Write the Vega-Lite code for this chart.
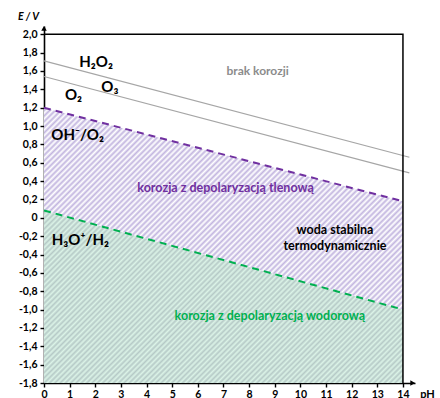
{
  "$schema": "https://vega.github.io/schema/vega-lite/v6.json",
  "width": 371,
  "height": 357,
  "autosize": {"type": "none"},
  "padding": {"left": 44, "top": 26, "right": 25, "bottom": 15},
  "background": "white",
  "config": {"view": {"stroke": null}, "font": "Lato"},
  "datasets": {
    "regions": [
      {"region": "tlen", "pH": 0, "top": 1.2, "bottom": 0.08},
      {"region": "tlen", "pH": 14, "top": 0.18, "bottom": -1.0},
      {"region": "wodor", "pH": 0, "top": 0.08, "bottom": -1.8},
      {"region": "wodor", "pH": 14, "top": -1.0, "bottom": -1.8}
    ],
    "lines": [
      {"series": "H2O2", "pH": 0, "E": 1.71},
      {"series": "H2O2", "pH": 14.25, "E": 0.66},
      {"series": "O3", "pH": 0, "E": 1.54},
      {"series": "O3", "pH": 14.25, "E": 0.49},
      {"series": "O2", "pH": 0, "E": 1.2},
      {"series": "O2", "pH": 14, "E": 0.18},
      {"series": "H2", "pH": 0, "E": 0.08},
      {"series": "H2", "pH": 14, "E": -1.0}
    ],
    "frame": [
      {"pH": 0, "E": 2.0},
      {"pH": 14, "E": 2.0},
      {"pH": 14, "E": -1.8}
    ],
    "arrows": [
      {"axis": "y", "pH": 0, "E": 2.065},
      {"axis": "x", "pH": 14.38, "E": -1.8}
    ],
    "labels": [
      {"group": "species", "text": "H₂O₂", "pH": 2.03, "E": 1.70},
      {"group": "species", "text": "O₃", "pH": 2.57, "E": 1.43},
      {"group": "species", "text": "O₂", "pH": 1.15, "E": 1.34},
      {"group": "species", "text": "OH⁻/O₂", "pH": 1.31, "E": 0.90},
      {"group": "species", "text": "H₃O⁺/H₂", "pH": 1.42, "E": -0.24},
      {"group": "brak", "text": "brak korozji", "pH": 8.33, "E": 1.60},
      {"group": "tlen", "text": "korozja z depolaryzacją tlenową", "pH": 7.08, "E": 0.33},
      {"group": "woda", "text": "woda stabilna", "pH": 11.35, "E": -0.13},
      {"group": "woda", "text": "termodynamicznie", "pH": 11.35, "E": -0.31},
      {"group": "wodor", "text": "korozja z depolaryzacją wodorową", "pH": 8.81, "E": -1.07}
    ]
  },
  "layer": [
    {
      "data": {"name": "regions"},
      "transform": [{"filter": "datum.region == 'tlen'"}],
      "mark": {"type": "area", "opacity": 1, "fill": {"gradient": "linear", "x1": 0, "y1": 0, "x2": 1.187, "y2": 0.668, "stops": [
        {"offset":0,"color":"#ffffff"},{"offset":0.005,"color":"#c2b5df"},{"offset":0.01,"color":"#ffffff"},{"offset":0.015,"color":"#c2b5df"},{"offset":0.02,"color":"#ffffff"},{"offset":0.025,"color":"#c2b5df"},{"offset":0.03,"color":"#ffffff"},{"offset":0.035,"color":"#c2b5df"},{"offset":0.04,"color":"#ffffff"},{"offset":0.045,"color":"#c2b5df"},
        {"offset":0.05,"color":"#ffffff"},{"offset":0.055,"color":"#c2b5df"},{"offset":0.06,"color":"#ffffff"},{"offset":0.065,"color":"#c2b5df"},{"offset":0.07,"color":"#ffffff"},{"offset":0.075,"color":"#c2b5df"},{"offset":0.08,"color":"#ffffff"},{"offset":0.085,"color":"#c2b5df"},{"offset":0.09,"color":"#ffffff"},{"offset":0.095,"color":"#c2b5df"},
        {"offset":0.1,"color":"#ffffff"},{"offset":0.105,"color":"#c2b5df"},{"offset":0.11,"color":"#ffffff"},{"offset":0.115,"color":"#c2b5df"},{"offset":0.12,"color":"#ffffff"},{"offset":0.125,"color":"#c2b5df"},{"offset":0.13,"color":"#ffffff"},{"offset":0.135,"color":"#c2b5df"},{"offset":0.14,"color":"#ffffff"},{"offset":0.145,"color":"#c2b5df"},
        {"offset":0.15,"color":"#ffffff"},{"offset":0.155,"color":"#c2b5df"},{"offset":0.16,"color":"#ffffff"},{"offset":0.165,"color":"#c2b5df"},{"offset":0.17,"color":"#ffffff"},{"offset":0.175,"color":"#c2b5df"},{"offset":0.18,"color":"#ffffff"},{"offset":0.185,"color":"#c2b5df"},{"offset":0.19,"color":"#ffffff"},{"offset":0.195,"color":"#c2b5df"},
        {"offset":0.2,"color":"#ffffff"},{"offset":0.205,"color":"#c2b5df"},{"offset":0.21,"color":"#ffffff"},{"offset":0.215,"color":"#c2b5df"},{"offset":0.22,"color":"#ffffff"},{"offset":0.225,"color":"#c2b5df"},{"offset":0.23,"color":"#ffffff"},{"offset":0.235,"color":"#c2b5df"},{"offset":0.24,"color":"#ffffff"},{"offset":0.245,"color":"#c2b5df"},
        {"offset":0.25,"color":"#ffffff"},{"offset":0.255,"color":"#c2b5df"},{"offset":0.26,"color":"#ffffff"},{"offset":0.265,"color":"#c2b5df"},{"offset":0.27,"color":"#ffffff"},{"offset":0.275,"color":"#c2b5df"},{"offset":0.28,"color":"#ffffff"},{"offset":0.285,"color":"#c2b5df"},{"offset":0.29,"color":"#ffffff"},{"offset":0.295,"color":"#c2b5df"},
        {"offset":0.3,"color":"#ffffff"},{"offset":0.305,"color":"#c2b5df"},{"offset":0.31,"color":"#ffffff"},{"offset":0.315,"color":"#c2b5df"},{"offset":0.32,"color":"#ffffff"},{"offset":0.325,"color":"#c2b5df"},{"offset":0.33,"color":"#ffffff"},{"offset":0.335,"color":"#c2b5df"},{"offset":0.34,"color":"#ffffff"},{"offset":0.345,"color":"#c2b5df"},
        {"offset":0.35,"color":"#ffffff"},{"offset":0.355,"color":"#c2b5df"},{"offset":0.36,"color":"#ffffff"},{"offset":0.365,"color":"#c2b5df"},{"offset":0.37,"color":"#ffffff"},{"offset":0.375,"color":"#c2b5df"},{"offset":0.38,"color":"#ffffff"},{"offset":0.385,"color":"#c2b5df"},{"offset":0.39,"color":"#ffffff"},{"offset":0.395,"color":"#c2b5df"},
        {"offset":0.4,"color":"#ffffff"},{"offset":0.405,"color":"#c2b5df"},{"offset":0.41,"color":"#ffffff"},{"offset":0.415,"color":"#c2b5df"},{"offset":0.42,"color":"#ffffff"},{"offset":0.425,"color":"#c2b5df"},{"offset":0.43,"color":"#ffffff"},{"offset":0.435,"color":"#c2b5df"},{"offset":0.44,"color":"#ffffff"},{"offset":0.445,"color":"#c2b5df"},
        {"offset":0.45,"color":"#ffffff"},{"offset":0.455,"color":"#c2b5df"},{"offset":0.46,"color":"#ffffff"},{"offset":0.465,"color":"#c2b5df"},{"offset":0.47,"color":"#ffffff"},{"offset":0.475,"color":"#c2b5df"},{"offset":0.48,"color":"#ffffff"},{"offset":0.485,"color":"#c2b5df"},{"offset":0.49,"color":"#ffffff"},{"offset":0.495,"color":"#c2b5df"},
        {"offset":0.5,"color":"#ffffff"},{"offset":0.505,"color":"#c2b5df"},{"offset":0.51,"color":"#ffffff"},{"offset":0.515,"color":"#c2b5df"},{"offset":0.52,"color":"#ffffff"},{"offset":0.525,"color":"#c2b5df"},{"offset":0.53,"color":"#ffffff"},{"offset":0.535,"color":"#c2b5df"},{"offset":0.54,"color":"#ffffff"},{"offset":0.545,"color":"#c2b5df"},
        {"offset":0.55,"color":"#ffffff"},{"offset":0.555,"color":"#c2b5df"},{"offset":0.56,"color":"#ffffff"},{"offset":0.565,"color":"#c2b5df"},{"offset":0.57,"color":"#ffffff"},{"offset":0.575,"color":"#c2b5df"},{"offset":0.58,"color":"#ffffff"},{"offset":0.585,"color":"#c2b5df"},{"offset":0.59,"color":"#ffffff"},{"offset":0.595,"color":"#c2b5df"},
        {"offset":0.6,"color":"#ffffff"},{"offset":0.605,"color":"#c2b5df"},{"offset":0.61,"color":"#ffffff"},{"offset":0.615,"color":"#c2b5df"},{"offset":0.62,"color":"#ffffff"},{"offset":0.625,"color":"#c2b5df"},{"offset":0.63,"color":"#ffffff"},{"offset":0.635,"color":"#c2b5df"},{"offset":0.64,"color":"#ffffff"},{"offset":0.645,"color":"#c2b5df"},
        {"offset":0.65,"color":"#ffffff"},{"offset":0.655,"color":"#c2b5df"},{"offset":0.66,"color":"#ffffff"},{"offset":0.665,"color":"#c2b5df"},{"offset":0.67,"color":"#ffffff"},{"offset":0.675,"color":"#c2b5df"},{"offset":0.68,"color":"#ffffff"},{"offset":0.685,"color":"#c2b5df"},{"offset":0.69,"color":"#ffffff"},{"offset":0.695,"color":"#c2b5df"},
        {"offset":0.7,"color":"#ffffff"},{"offset":0.705,"color":"#c2b5df"},{"offset":0.71,"color":"#ffffff"},{"offset":0.715,"color":"#c2b5df"},{"offset":0.72,"color":"#ffffff"},{"offset":0.725,"color":"#c2b5df"},{"offset":0.73,"color":"#ffffff"},{"offset":0.735,"color":"#c2b5df"},{"offset":0.74,"color":"#ffffff"},{"offset":0.745,"color":"#c2b5df"},
        {"offset":0.75,"color":"#ffffff"},{"offset":0.755,"color":"#c2b5df"},{"offset":0.76,"color":"#ffffff"},{"offset":0.765,"color":"#c2b5df"},{"offset":0.77,"color":"#ffffff"},{"offset":0.775,"color":"#c2b5df"},{"offset":0.78,"color":"#ffffff"},{"offset":0.785,"color":"#c2b5df"},{"offset":0.79,"color":"#ffffff"},{"offset":0.795,"color":"#c2b5df"},
        {"offset":0.8,"color":"#ffffff"},{"offset":0.805,"color":"#c2b5df"},{"offset":0.81,"color":"#ffffff"},{"offset":0.815,"color":"#c2b5df"},{"offset":0.82,"color":"#ffffff"},{"offset":0.825,"color":"#c2b5df"},{"offset":0.83,"color":"#ffffff"},{"offset":0.835,"color":"#c2b5df"},{"offset":0.84,"color":"#ffffff"},{"offset":0.845,"color":"#c2b5df"},
        {"offset":0.85,"color":"#ffffff"},{"offset":0.855,"color":"#c2b5df"},{"offset":0.86,"color":"#ffffff"},{"offset":0.865,"color":"#c2b5df"},{"offset":0.87,"color":"#ffffff"},{"offset":0.875,"color":"#c2b5df"},{"offset":0.88,"color":"#ffffff"},{"offset":0.885,"color":"#c2b5df"},{"offset":0.89,"color":"#ffffff"},{"offset":0.895,"color":"#c2b5df"},
        {"offset":0.9,"color":"#ffffff"},{"offset":0.905,"color":"#c2b5df"},{"offset":0.91,"color":"#ffffff"},{"offset":0.915,"color":"#c2b5df"},{"offset":0.92,"color":"#ffffff"},{"offset":0.925,"color":"#c2b5df"},{"offset":0.93,"color":"#ffffff"},{"offset":0.935,"color":"#c2b5df"},{"offset":0.94,"color":"#ffffff"},{"offset":0.945,"color":"#c2b5df"},
        {"offset":0.95,"color":"#ffffff"},{"offset":0.955,"color":"#c2b5df"},{"offset":0.96,"color":"#ffffff"},{"offset":0.965,"color":"#c2b5df"},{"offset":0.97,"color":"#ffffff"},{"offset":0.975,"color":"#c2b5df"},{"offset":0.98,"color":"#ffffff"},{"offset":0.985,"color":"#c2b5df"},{"offset":0.99,"color":"#ffffff"},{"offset":0.995,"color":"#c2b5df"},
        {"offset":1,"color":"#ffffff"}
      ]}},
      "encoding": {
        "x": {
          "field": "pH", "type": "quantitative",
          "scale": {"domain": [0, 14.47], "nice": false, "zero": false},
          "axis": {
            "values": [0, 1, 2, 3, 4, 5, 6, 7, 8, 9, 10, 11, 12, 13, 14],
            "tickCount": 40, "format": "d",
            "grid": false, "domainColor": "#000", "domainWidth": 1.6,
            "tickColor": "#000", "tickWidth": 1.4, "tickSize": 4,
            "labelFont": "Lato", "labelFontWeight": "bold", "labelFontSize": 10.5, "labelColor": "#000",
            "labelPadding": 2, "labelFlush": false, "labelOverlap": false, "labelBound": false,
            "title": "pH", "titleX": 383, "titleY": 11, "titleBaseline": "middle", "titleAlign": "center",
            "titleFont": "Lato", "titleFontWeight": "bold", "titleFontSize": 11, "titleColor": "#000"
          }
        },
        "y": {
          "field": "top", "type": "quantitative",
          "scale": {"domain": [-1.8, 2.09], "nice": false, "zero": false},
          "axis": {
            "values": [-1.8, -1.6, -1.4, -1.2, -1.0, -0.8, -0.6, -0.4, -0.2, 0, 0.2, 0.4, 0.6, 0.8, 1.0, 1.2, 1.4, 1.6, 1.8, 2.0],
            "tickCount": 40,
            "labelExpr": "datum.value == 0 ? '0' : replace(replace(format(datum.value, '.1f'), '.', ','), '−', '-')",
            "grid": false, "domainColor": "#000", "domainWidth": 1.6,
            "tickColor": "#000", "tickWidth": 1.4, "tickSize": 4,
            "labelFont": "Lato", "labelFontWeight": "bold", "labelFontSize": 10.5, "labelColor": "#000",
            "labelPadding": 3, "labelFlush": false, "labelOverlap": false, "labelBound": false,
            "title": "E / V", "titleAngle": 0, "titleX": -16, "titleY": -10, "titleBaseline": "middle", "titleAlign": "center",
            "titleFont": "Lato", "titleFontWeight": "bold", "titleFontStyle": "italic", "titleFontSize": 10.5, "titleColor": "#000"
          }
        },
        "y2": {"field": "bottom"}
      }
    },
    {
      "data": {"name": "regions"},
      "transform": [{"filter": "datum.region == 'wodor'"}],
      "mark": {"type": "area", "opacity": 1, "fill": {"gradient": "linear", "x1": 0, "y1": 0, "x2": 1.203, "y2": 0.578, "stops": [
        {"offset":0,"color":"#dbf3e7"},{"offset":0.005,"color":"#b6cac7"},{"offset":0.01,"color":"#dbf3e7"},{"offset":0.015,"color":"#b6cac7"},{"offset":0.02,"color":"#dbf3e7"},{"offset":0.025,"color":"#b6cac7"},{"offset":0.03,"color":"#dbf3e7"},{"offset":0.035,"color":"#b6cac7"},{"offset":0.04,"color":"#dbf3e7"},{"offset":0.045,"color":"#b6cac7"},
        {"offset":0.05,"color":"#dbf3e7"},{"offset":0.055,"color":"#b6cac7"},{"offset":0.06,"color":"#dbf3e7"},{"offset":0.065,"color":"#b6cac7"},{"offset":0.07,"color":"#dbf3e7"},{"offset":0.075,"color":"#b6cac7"},{"offset":0.08,"color":"#dbf3e7"},{"offset":0.085,"color":"#b6cac7"},{"offset":0.09,"color":"#dbf3e7"},{"offset":0.095,"color":"#b6cac7"},
        {"offset":0.1,"color":"#dbf3e7"},{"offset":0.105,"color":"#b6cac7"},{"offset":0.11,"color":"#dbf3e7"},{"offset":0.115,"color":"#b6cac7"},{"offset":0.12,"color":"#dbf3e7"},{"offset":0.125,"color":"#b6cac7"},{"offset":0.13,"color":"#dbf3e7"},{"offset":0.135,"color":"#b6cac7"},{"offset":0.14,"color":"#dbf3e7"},{"offset":0.145,"color":"#b6cac7"},
        {"offset":0.15,"color":"#dbf3e7"},{"offset":0.155,"color":"#b6cac7"},{"offset":0.16,"color":"#dbf3e7"},{"offset":0.165,"color":"#b6cac7"},{"offset":0.17,"color":"#dbf3e7"},{"offset":0.175,"color":"#b6cac7"},{"offset":0.18,"color":"#dbf3e7"},{"offset":0.185,"color":"#b6cac7"},{"offset":0.19,"color":"#dbf3e7"},{"offset":0.195,"color":"#b6cac7"},
        {"offset":0.2,"color":"#dbf3e7"},{"offset":0.205,"color":"#b6cac7"},{"offset":0.21,"color":"#dbf3e7"},{"offset":0.215,"color":"#b6cac7"},{"offset":0.22,"color":"#dbf3e7"},{"offset":0.225,"color":"#b6cac7"},{"offset":0.23,"color":"#dbf3e7"},{"offset":0.235,"color":"#b6cac7"},{"offset":0.24,"color":"#dbf3e7"},{"offset":0.245,"color":"#b6cac7"},
        {"offset":0.25,"color":"#dbf3e7"},{"offset":0.255,"color":"#b6cac7"},{"offset":0.26,"color":"#dbf3e7"},{"offset":0.265,"color":"#b6cac7"},{"offset":0.27,"color":"#dbf3e7"},{"offset":0.275,"color":"#b6cac7"},{"offset":0.28,"color":"#dbf3e7"},{"offset":0.285,"color":"#b6cac7"},{"offset":0.29,"color":"#dbf3e7"},{"offset":0.295,"color":"#b6cac7"},
        {"offset":0.3,"color":"#dbf3e7"},{"offset":0.305,"color":"#b6cac7"},{"offset":0.31,"color":"#dbf3e7"},{"offset":0.315,"color":"#b6cac7"},{"offset":0.32,"color":"#dbf3e7"},{"offset":0.325,"color":"#b6cac7"},{"offset":0.33,"color":"#dbf3e7"},{"offset":0.335,"color":"#b6cac7"},{"offset":0.34,"color":"#dbf3e7"},{"offset":0.345,"color":"#b6cac7"},
        {"offset":0.35,"color":"#dbf3e7"},{"offset":0.355,"color":"#b6cac7"},{"offset":0.36,"color":"#dbf3e7"},{"offset":0.365,"color":"#b6cac7"},{"offset":0.37,"color":"#dbf3e7"},{"offset":0.375,"color":"#b6cac7"},{"offset":0.38,"color":"#dbf3e7"},{"offset":0.385,"color":"#b6cac7"},{"offset":0.39,"color":"#dbf3e7"},{"offset":0.395,"color":"#b6cac7"},
        {"offset":0.4,"color":"#dbf3e7"},{"offset":0.405,"color":"#b6cac7"},{"offset":0.41,"color":"#dbf3e7"},{"offset":0.415,"color":"#b6cac7"},{"offset":0.42,"color":"#dbf3e7"},{"offset":0.425,"color":"#b6cac7"},{"offset":0.43,"color":"#dbf3e7"},{"offset":0.435,"color":"#b6cac7"},{"offset":0.44,"color":"#dbf3e7"},{"offset":0.445,"color":"#b6cac7"},
        {"offset":0.45,"color":"#dbf3e7"},{"offset":0.455,"color":"#b6cac7"},{"offset":0.46,"color":"#dbf3e7"},{"offset":0.465,"color":"#b6cac7"},{"offset":0.47,"color":"#dbf3e7"},{"offset":0.475,"color":"#b6cac7"},{"offset":0.48,"color":"#dbf3e7"},{"offset":0.485,"color":"#b6cac7"},{"offset":0.49,"color":"#dbf3e7"},{"offset":0.495,"color":"#b6cac7"},
        {"offset":0.5,"color":"#dbf3e7"},{"offset":0.505,"color":"#b6cac7"},{"offset":0.51,"color":"#dbf3e7"},{"offset":0.515,"color":"#b6cac7"},{"offset":0.52,"color":"#dbf3e7"},{"offset":0.525,"color":"#b6cac7"},{"offset":0.53,"color":"#dbf3e7"},{"offset":0.535,"color":"#b6cac7"},{"offset":0.54,"color":"#dbf3e7"},{"offset":0.545,"color":"#b6cac7"},
        {"offset":0.55,"color":"#dbf3e7"},{"offset":0.555,"color":"#b6cac7"},{"offset":0.56,"color":"#dbf3e7"},{"offset":0.565,"color":"#b6cac7"},{"offset":0.57,"color":"#dbf3e7"},{"offset":0.575,"color":"#b6cac7"},{"offset":0.58,"color":"#dbf3e7"},{"offset":0.585,"color":"#b6cac7"},{"offset":0.59,"color":"#dbf3e7"},{"offset":0.595,"color":"#b6cac7"},
        {"offset":0.6,"color":"#dbf3e7"},{"offset":0.605,"color":"#b6cac7"},{"offset":0.61,"color":"#dbf3e7"},{"offset":0.615,"color":"#b6cac7"},{"offset":0.62,"color":"#dbf3e7"},{"offset":0.625,"color":"#b6cac7"},{"offset":0.63,"color":"#dbf3e7"},{"offset":0.635,"color":"#b6cac7"},{"offset":0.64,"color":"#dbf3e7"},{"offset":0.645,"color":"#b6cac7"},
        {"offset":0.65,"color":"#dbf3e7"},{"offset":0.655,"color":"#b6cac7"},{"offset":0.66,"color":"#dbf3e7"},{"offset":0.665,"color":"#b6cac7"},{"offset":0.67,"color":"#dbf3e7"},{"offset":0.675,"color":"#b6cac7"},{"offset":0.68,"color":"#dbf3e7"},{"offset":0.685,"color":"#b6cac7"},{"offset":0.69,"color":"#dbf3e7"},{"offset":0.695,"color":"#b6cac7"},
        {"offset":0.7,"color":"#dbf3e7"},{"offset":0.705,"color":"#b6cac7"},{"offset":0.71,"color":"#dbf3e7"},{"offset":0.715,"color":"#b6cac7"},{"offset":0.72,"color":"#dbf3e7"},{"offset":0.725,"color":"#b6cac7"},{"offset":0.73,"color":"#dbf3e7"},{"offset":0.735,"color":"#b6cac7"},{"offset":0.74,"color":"#dbf3e7"},{"offset":0.745,"color":"#b6cac7"},
        {"offset":0.75,"color":"#dbf3e7"},{"offset":0.755,"color":"#b6cac7"},{"offset":0.76,"color":"#dbf3e7"},{"offset":0.765,"color":"#b6cac7"},{"offset":0.77,"color":"#dbf3e7"},{"offset":0.775,"color":"#b6cac7"},{"offset":0.78,"color":"#dbf3e7"},{"offset":0.785,"color":"#b6cac7"},{"offset":0.79,"color":"#dbf3e7"},{"offset":0.795,"color":"#b6cac7"},
        {"offset":0.8,"color":"#dbf3e7"},{"offset":0.805,"color":"#b6cac7"},{"offset":0.81,"color":"#dbf3e7"},{"offset":0.815,"color":"#b6cac7"},{"offset":0.82,"color":"#dbf3e7"},{"offset":0.825,"color":"#b6cac7"},{"offset":0.83,"color":"#dbf3e7"},{"offset":0.835,"color":"#b6cac7"},{"offset":0.84,"color":"#dbf3e7"},{"offset":0.845,"color":"#b6cac7"},
        {"offset":0.85,"color":"#dbf3e7"},{"offset":0.855,"color":"#b6cac7"},{"offset":0.86,"color":"#dbf3e7"},{"offset":0.865,"color":"#b6cac7"},{"offset":0.87,"color":"#dbf3e7"},{"offset":0.875,"color":"#b6cac7"},{"offset":0.88,"color":"#dbf3e7"},{"offset":0.885,"color":"#b6cac7"},{"offset":0.89,"color":"#dbf3e7"},{"offset":0.895,"color":"#b6cac7"},
        {"offset":0.9,"color":"#dbf3e7"},{"offset":0.905,"color":"#b6cac7"},{"offset":0.91,"color":"#dbf3e7"},{"offset":0.915,"color":"#b6cac7"},{"offset":0.92,"color":"#dbf3e7"},{"offset":0.925,"color":"#b6cac7"},{"offset":0.93,"color":"#dbf3e7"},{"offset":0.935,"color":"#b6cac7"},{"offset":0.94,"color":"#dbf3e7"},{"offset":0.945,"color":"#b6cac7"},
        {"offset":0.95,"color":"#dbf3e7"},{"offset":0.955,"color":"#b6cac7"},{"offset":0.96,"color":"#dbf3e7"},{"offset":0.965,"color":"#b6cac7"},{"offset":0.97,"color":"#dbf3e7"},{"offset":0.975,"color":"#b6cac7"},{"offset":0.98,"color":"#dbf3e7"},{"offset":0.985,"color":"#b6cac7"},{"offset":0.99,"color":"#dbf3e7"},{"offset":0.995,"color":"#b6cac7"},
        {"offset":1,"color":"#dbf3e7"}
      ]}},
      "encoding": {
        "x": {"field": "pH", "type": "quantitative"},
        "y": {"field": "top", "type": "quantitative"},
        "y2": {"field": "bottom"}
      }
    },
    {
      "data": {"name": "lines"},
      "transform": [{"filter": "datum.series == 'H2O2' || datum.series == 'O3'"}],
      "mark": {"type": "line", "color": "#a6a6a6", "strokeWidth": 1.2, "clip": false},
      "encoding": {
        "x": {"field": "pH", "type": "quantitative"},
        "y": {"field": "E", "type": "quantitative"},
        "detail": {"field": "series"}
      }
    },
    {
      "data": {"name": "lines"},
      "transform": [{"filter": "datum.series == 'O2'"}],
      "mark": {"type": "line", "color": "#7030a0", "strokeWidth": 2, "strokeDash": [7, 5]},
      "encoding": {
        "x": {"field": "pH", "type": "quantitative"},
        "y": {"field": "E", "type": "quantitative"}
      }
    },
    {
      "data": {"name": "lines"},
      "transform": [{"filter": "datum.series == 'H2'"}],
      "mark": {"type": "line", "color": "#00b050", "strokeWidth": 2, "strokeDash": [7, 5]},
      "encoding": {
        "x": {"field": "pH", "type": "quantitative"},
        "y": {"field": "E", "type": "quantitative"}
      }
    },
    {
      "data": {"name": "frame"},
      "mark": {"type": "line", "color": "#000", "strokeWidth": 1.5},
      "encoding": {
        "x": {"field": "pH", "type": "quantitative"},
        "y": {"field": "E", "type": "quantitative"}
      }
    },
    {
      "data": {"name": "arrows"},
      "mark": {"type": "point", "filled": true, "color": "#000", "opacity": 1, "size": 30},
      "encoding": {
        "x": {"field": "pH", "type": "quantitative"},
        "y": {"field": "E", "type": "quantitative"},
        "shape": {"field": "axis", "type": "nominal", "scale": {"domain": ["x", "y"], "range": ["triangle-right", "triangle-up"]}, "legend": null}
      }
    },
    {
      "data": {"name": "labels"},
      "transform": [{"filter": "datum.group == 'species'"}],
      "mark": {"type": "text", "font": "Lato", "fontWeight": "bold", "fontSize": 15, "color": "#000", "align": "center", "baseline": "middle"},
      "encoding": {
        "x": {"field": "pH", "type": "quantitative"},
        "y": {"field": "E", "type": "quantitative"},
        "text": {"field": "text"}
      }
    },
    {
      "data": {"name": "labels"},
      "transform": [{"filter": "datum.group == 'brak'"}],
      "mark": {"type": "text", "font": "Lato", "fontWeight": "bold", "fontSize": 12, "color": "#8c8c8c", "align": "center", "baseline": "middle"},
      "encoding": {
        "x": {"field": "pH", "type": "quantitative"},
        "y": {"field": "E", "type": "quantitative"},
        "text": {"field": "text"}
      }
    },
    {
      "data": {"name": "labels"},
      "transform": [{"filter": "datum.group == 'tlen'"}],
      "mark": {"type": "text", "font": "Lato", "fontWeight": "bold", "fontSize": 12.5, "color": "#7030a0", "align": "center", "baseline": "middle"},
      "encoding": {
        "x": {"field": "pH", "type": "quantitative"},
        "y": {"field": "E", "type": "quantitative"},
        "text": {"field": "text"}
      }
    },
    {
      "data": {"name": "labels"},
      "transform": [{"filter": "datum.group == 'woda'"}],
      "mark": {"type": "text", "font": "Lato", "fontWeight": "bold", "fontSize": 12.5, "color": "#000", "align": "center", "baseline": "middle"},
      "encoding": {
        "x": {"field": "pH", "type": "quantitative"},
        "y": {"field": "E", "type": "quantitative"},
        "text": {"field": "text"}
      }
    },
    {
      "data": {"name": "labels"},
      "transform": [{"filter": "datum.group == 'wodor'"}],
      "mark": {"type": "text", "font": "Lato", "fontWeight": "bold", "fontSize": 12.5, "color": "#00b050", "align": "center", "baseline": "middle"},
      "encoding": {
        "x": {"field": "pH", "type": "quantitative"},
        "y": {"field": "E", "type": "quantitative"},
        "text": {"field": "text"}
      }
    }
  ]
}
